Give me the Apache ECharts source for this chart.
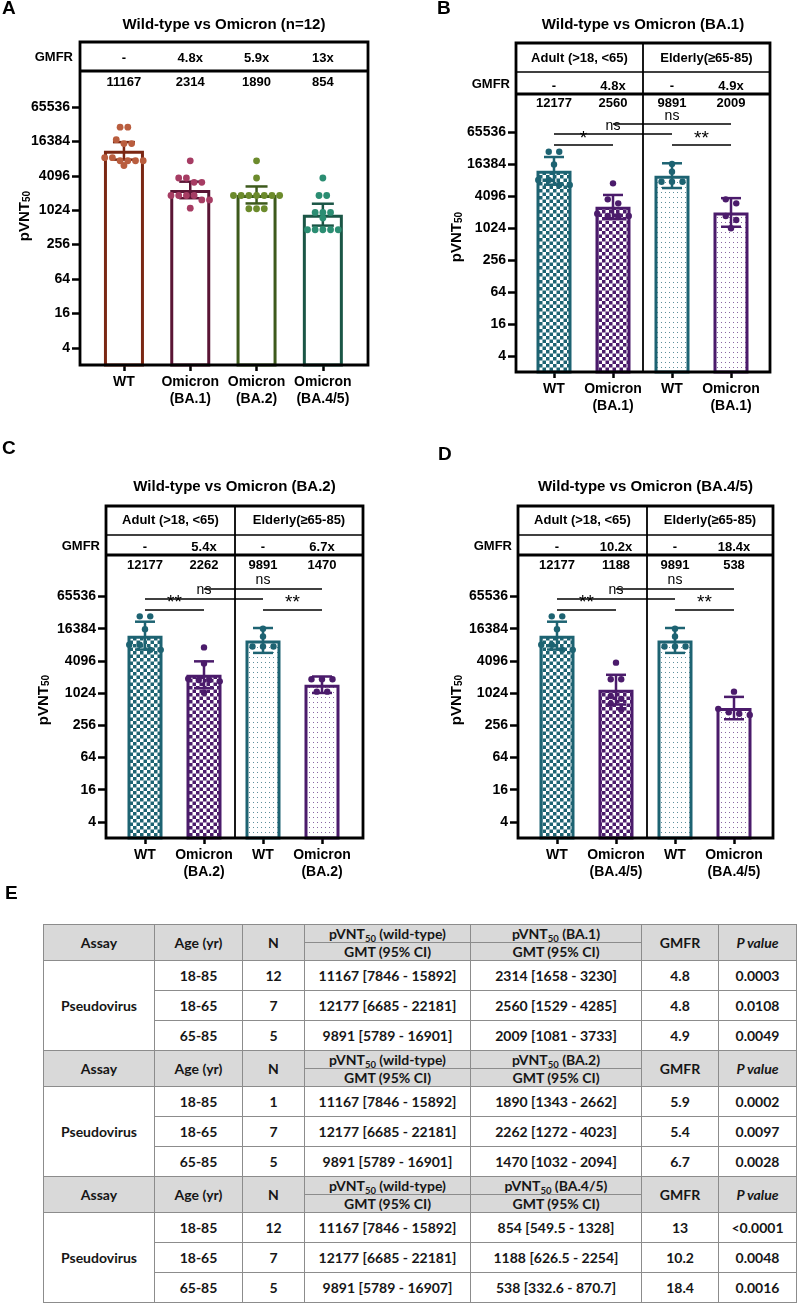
<!DOCTYPE html>
<html><head><meta charset="utf-8">
<script src="https://cdn.jsdelivr.net/npm/echarts@6/dist/echarts.min.js"></script>
<style>
html,body{margin:0;padding:0;background:#fff;width:797px;height:1304px;overflow:hidden;}
#chart{position:absolute;left:0;top:0;width:797px;height:910px;}
#tbl{position:absolute;left:43px;top:924px;width:753px;border-collapse:collapse;table-layout:fixed;
 font-family:Lato,'Open Sans',sans-serif;font-weight:700;font-size:14px;color:#161616;}
#tbl td{border:1px solid #8c8c8c;text-align:center;vertical-align:middle;padding:0;line-height:1;white-space:nowrap;overflow:hidden;}
#tbl tr.hd td{background:#d9d9d9;}
#tbl tr.h1,#tbl tr.h2{height:18px;}
#tbl tr.dr{height:30px;}
#tbl .sub{font-size:9.5px;position:relative;top:3px;}
</style></head><body>
<div id="chart"></div>
<table id="tbl"></table>
<script>
// ---------------- DATA ----------------
const yTicks = [4, 16, 64, 256, 1024, 4096, 16384, 65536];

// Panel A
const catsA = ['WT', 'Omicron\n(BA.1)', 'Omicron\n(BA.2)', 'Omicron\n(BA.4/5)'];
const gmtA = [11167, 2314, 1890, 854];
const gmfrA = ['-', '4.8x', '5.9x', '13x'];
const ciLowA = [7846, 1658, 1343, 549.5];
const ciHighA = [15892, 3230, 2662, 1328];
const dotsA_WT = [29000, 29000, 17500, 15000, 15000, 8500, 8500, 7500, 7500, 7500, 7500, 6200];
const dotsA_BA1 = [7480, 3740, 3740, 3140, 3140, 1850, 1850, 1850, 1850, 1550, 1550, 1110];
const dotsA_BA2 = [7480, 3740, 1850, 1850, 1850, 1850, 1850, 1850, 1850, 1085, 1085, 1085];
const dotsA_BA45 = [3740, 1850, 1850, 935, 935, 935, 745, 465, 465, 465, 465, 465];

// Panels B-D (shared wild-type groups)
const ageGroups = ['Adult (>18, <65)', 'Elderly(\u226565-85)'];
const dotsWT_adult = [27900, 27900, 16000, 8200, 8200, 6600, 6600];
const dotsWT_elderly = [16400, 11700, 7600, 7600, 7600];

// Panel B (BA.1)
const catsB = ['WT', 'Omicron\n(BA.1)', 'WT', 'Omicron\n(BA.1)'];
const gmtB = [12177, 2560, 9891, 2009];
const gmfrB = ['-', '4.8x', '-', '4.9x'];
const ciLowB = [6685, 1529, 5789, 1081];
const ciHighB = [22181, 4285, 16901, 3733];
const dotsB_adultOm = [7080, 3540, 2980, 1900, 1720, 1720, 1720];
const dotsB_elderlyOm = [3540, 2980, 1720, 1450, 1010];
const sigB = ['*', '**'];

// Panel C (BA.2)
const catsC = ['WT', 'Omicron\n(BA.2)', 'WT', 'Omicron\n(BA.2)'];
const gmtC = [12177, 2262, 9891, 1470];
const gmfrC = ['-', '5.4x', '-', '6.7x'];
const ciLowC = [6685, 1272, 5789, 1032];
const ciHighC = [22181, 4023, 16901, 2094];
const dotsC_adultOm = [7330, 3660, 1900, 1800, 1800, 1700, 1040];
const dotsC_elderlyOm = [1860, 1860, 1860, 1090, 1090];
const sigC = ['**', '**'];

// Panel D (BA.4/5)
const catsD = ['WT', 'Omicron\n(BA.4/5)', 'WT', 'Omicron\n(BA.4/5)'];
const gmtD = [12177, 1188, 9891, 538];
const gmfrD = ['-', '10.2x', '-', '18.4x'];
const ciLowD = [6685, 626.5, 5789, 332.6];
const ciHighD = [22181, 2254, 16907, 870.7];
const dotsD_adultOm = [3800, 1860, 1860, 900, 800, 650, 500];
const dotsD_elderlyOm = [1090, 520, 450, 420, 400];
const sigD = ['**', '**'];

// significance bracket levels (pVNT50 units)
const bracketPair = 37300, bracketNsLow = 60000, bracketNsHigh = 92700;

// Table E
const tblAssay = 'Pseudovirus';
const tblAges = ['18-85', '18-65', '65-85'];
const tblVariants = ['BA.1', 'BA.2', 'BA.4/5'];
const tblN = [[12, 7, 5], [1, 7, 5], [12, 7, 5]];
const tblWT = [
  ['11167 [7846 - 15892]', '12177 [6685 - 22181]', '9891 [5789 - 16901]'],
  ['11167 [7846 - 15892]', '12177 [6685 - 22181]', '9891 [5789 - 16901]'],
  ['11167 [7846 - 15892]', '12177 [6685 - 22181]', '9891 [5789 - 16907]']];
const tblOmi = [
  ['2314 [1658 - 3230]', '2560 [1529 - 4285]', '2009 [1081 - 3733]'],
  ['1890 [1343 - 2662]', '2262 [1272 - 4023]', '1470 [1032 - 2094]'],
  ['854 [549.5 - 1328]', '1188 [626.5 - 2254]', '538 [332.6 - 870.7]']];
const tblGMFR = [['4.8', '4.8', '4.9'], ['5.9', '5.4', '6.7'], ['13', '10.2', '18.4']];
const tblP = [['0.0003', '0.0108', '0.0049'], ['0.0002', '0.0097', '0.0028'], ['<0.0001', '0.0048', '0.0016']];

// ---------------- STYLE / LAYOUT ----------------
const FONT = "'Liberation Sans', Arial, Helvetica, sans-serif";
const TEAL = '#1d6372', PURP = '#4b1b6b';
function checker(color) {
  const c = document.createElement('canvas'); c.width = 7; c.height = 7;
  const g = c.getContext('2d'); g.fillStyle = '#fff'; g.fillRect(0, 0, 7, 7);
  g.fillStyle = color; g.fillRect(0, 0, 3.5, 3.5); g.fillRect(3.5, 3.5, 3.5, 3.5);
  return { image: c, repeat: 'repeat' };
}
function dotted(color) {
  const c = document.createElement('canvas'); c.width = 4; c.height = 5;
  const g = c.getContext('2d'); g.fillStyle = '#fff'; g.fillRect(0, 0, 4, 5);
  g.fillStyle = color; g.fillRect(1, 2, 1, 1);
  return { image: c, repeat: 'repeat' };
}

const L_A = { letter: 'A', lx: 2, ly: 9, title: 'Wild-type vs Omicron (n=12)', ty: 25,
  x0: 80, x1: 368, top: 42, ageLine: null, gmfrLine: 71, bottom: 365, mid: null,
  plotL: 90.8, plotR: 356, yMax: 279000, barW: 40, capW: 22, dotR: 3.4, dotD: 7.7,
  gmtMargin: 4.5, gmfrMargin: 6.5, nameX: 25, nameY: 216 };
const L_B = { letter: 'B', lx: 437, ly: 9, title: 'Wild-type vs Omicron (BA.1)', ty: 25,
  x0: 516, x1: 770, top: 43, ageLine: 72, gmfrLine: 94, bottom: 372, mid: 643, ageY: 58,
  plotL: 524.5, plotR: 760.5, yMax: 340000, barW: 35, capW: 20, dotR: 3.2, dotD: 10.5,
  gmtMargin: 2.5, gmfrMargin: 1.5, nameX: 457, nameY: 237 };
const L_C = { letter: 'C', lx: 2, ly: 449, title: 'Wild-type vs Omicron (BA.2)', ty: 487,
  x0: 106, x1: 363, top: 506, ageLine: 535, gmfrLine: 555, bottom: 838, mid: 235, ageY: 520,
  plotL: 115.5, plotR: 351.5, yMax: 392000, barW: 35, capW: 20, dotR: 3.2, dotD: 10.5,
  gmtMargin: 3.5, gmfrMargin: 1, nameX: 44, nameY: 700 };
const L_D = { letter: 'D', lx: 438, ly: 455, title: 'Wild-type vs Omicron (BA.4/5)', ty: 487,
  x0: 518, x1: 773, top: 506, ageLine: 535, gmfrLine: 555, bottom: 838, mid: 647, ageY: 520,
  plotL: 527.5, plotR: 763.5, yMax: 392000, barW: 35, capW: 20, dotR: 3.2, dotD: 10.5,
  gmtMargin: 3.5, gmfrMargin: 1, nameX: 457, nameY: 700 };

const panelA = { cats: catsA, gmt: gmtA, gmfr: gmfrA, ciLow: ciLowA, ciHigh: ciHighA,
  dots: [dotsA_WT, dotsA_BA1, dotsA_BA2, dotsA_BA45],
  fills: ['#fff', '#fff', '#fff', '#fff'],
  edge: ['#7b2713', '#5a1535', '#3d5a1c', '#1b5646'],
  dotCol: ['#b95d3e', '#a63c63', '#6c8b2c', '#2b8d72'], sig: null };
const bcdFills = [checker(TEAL), checker(PURP), dotted('#5d8f9b'), dotted('#8a68a3')];
const bcdEdge = [TEAL, PURP, TEAL, PURP];
const panelB = { cats: catsB, gmt: gmtB, gmfr: gmfrB, ciLow: ciLowB, ciHigh: ciHighB,
  dots: [dotsWT_adult, dotsB_adultOm, dotsWT_elderly, dotsB_elderlyOm],
  fills: bcdFills, edge: bcdEdge, dotCol: bcdEdge, sig: sigB };
const panelC = { cats: catsC, gmt: gmtC, gmfr: gmfrC, ciLow: ciLowC, ciHigh: ciHighC,
  dots: [dotsWT_adult, dotsC_adultOm, dotsWT_elderly, dotsC_elderlyOm],
  fills: bcdFills, edge: bcdEdge, dotCol: bcdEdge, sig: sigC };
const panelD = { cats: catsD, gmt: gmtD, gmfr: gmfrD, ciLow: ciLowD, ciHigh: ciHighD,
  dots: [dotsWT_adult, dotsD_adultOm, dotsWT_elderly, dotsD_elderlyOm],
  fills: bcdFills, edge: bcdEdge, dotCol: bcdEdge, sig: sigD };

// ---------------- BUILD ----------------
const grids = [], xAxes = [], yAxes = [], series = [], graphics = [];
const bold = (size) => ({ color: '#000', fontFamily: FONT, fontWeight: 'bold', fontSize: size });

function errRender(colors, capW) {
  return function (params, api) {
    const i = api.value(0);
    const t = api.coord([i, api.value(2)]);
    const b = api.coord([i, api.value(1)]);
    const st = { stroke: colors[i], lineWidth: 2.5, fill: 'none' };
    return { type: 'group', children: [
      { type: 'line', shape: { x1: t[0], y1: t[1], x2: b[0], y2: b[1] }, style: st },
      { type: 'line', shape: { x1: t[0] - capW / 2, y1: t[1], x2: t[0] + capW / 2, y2: t[1] }, style: st },
      { type: 'line', shape: { x1: b[0] - capW / 2, y1: b[1], x2: b[0] + capW / 2, y2: b[1] }, style: st }
    ] };
  };
}
function dotRender(groups, colors, r, d) {
  return function (params, api) {
    const cat = api.value(0), val = api.value(1), k = api.value(2);
    const vals = groups[cat];
    const ys = vals.map(v => api.coord([cat, v])[1]);
    const order = vals.map((_, i) => i).sort((a, b) => (ys[a] - ys[b]) || (a - b));
    const rows = []; let cur = null, y0 = 0;
    order.forEach(i => {
      if (cur && ys[i] - y0 < 0.7 * d) cur.push(i);
      else { cur = [i]; y0 = ys[i]; rows.push(cur); }
    });
    let off = 0;
    rows.forEach(row => { const j = row.indexOf(k); if (j >= 0) off = (j - (row.length - 1) / 2) * d; });
    const c = api.coord([cat, val]);
    return { type: 'circle', shape: { cx: c[0] + off, cy: c[1], r: r }, style: { fill: colors[cat] } };
  };
}

function addPanel(L, P) {
  const gi = grids.length;
  grids.push({ left: L.plotL, top: L.gmfrLine, width: L.plotR - L.plotL, height: L.bottom - L.gmfrLine });
  const idx4 = ['0', '1', '2', '3'];
  const xb = xAxes.length;
  xAxes.push({ gridIndex: gi, type: 'category', data: idx4, position: 'bottom',
    axisLine: { show: false, onZero: false },
    axisTick: { show: true, alignWithLabel: true, length: 6, lineStyle: { color: '#000', width: 2.5 } },
    axisLabel: Object.assign({ interval: 0, formatter: (v, i) => P.cats[i], lineHeight: 17, margin: 9 }, bold(14)),
    splitLine: { show: false } });
  xAxes.push({ gridIndex: gi, type: 'category', data: idx4, position: 'top',
    axisLine: { show: false, onZero: false }, axisTick: { show: false },
    axisLabel: Object.assign({ inside: true, interval: 0, formatter: (v, i) => String(P.gmt[i]), margin: L.gmtMargin }, bold(13)) });
  xAxes.push({ gridIndex: gi, type: 'category', data: idx4, position: 'top',
    axisLine: { show: false, onZero: false }, axisTick: { show: false },
    axisLabel: Object.assign({ inside: false, interval: 0, formatter: (v, i) => P.gmfr[i], margin: L.gmfrMargin }, bold(13)) });
  const yi = yAxes.length;
  yAxes.push({ gridIndex: gi, type: 'log', logBase: 2, min: 2, max: L.yMax, offset: L.plotL - L.x0,
    axisLine: { show: false },
    axisTick: { show: true, length: 8, lineStyle: { color: '#000', width: 2.5 }, customValues: yTicks },
    axisLabel: Object.assign({ customValues: yTicks, formatter: v => String(Math.round(v)), margin: 10 }, bold(14)),
    splitLine: { show: false }, minorTick: { show: false } });

  const bar = { type: 'bar', xAxisIndex: xb, yAxisIndex: yi, barWidth: L.barW, silent: true, clip: true, z: 2,
    data: P.gmt.map((v, i) => ({ value: v, itemStyle: { color: P.fills[i], borderColor: P.edge[i], borderWidth: 3 } })) };
  if (P.sig) {
    const star = { fontSize: 19, distance: -3 };
    const ns = { fontSize: 14, distance: 1 };
    bar.markLine = { symbol: ['none', 'none'], silent: true, animation: false,
      lineStyle: { color: '#000', width: 1.5, type: 'solid' },
      label: { show: true, position: 'middle', formatter: '{b}', color: '#000', fontFamily: FONT, fontSize: 14, distance: 1 },
      data: [
        [{ name: P.sig[0], coord: [0, bracketPair], label: star }, { coord: [1, bracketPair] }],
        [{ name: P.sig[1], coord: [2, bracketPair], label: star }, { coord: [3, bracketPair] }],
        [{ name: 'ns', coord: [0, bracketNsLow], label: ns }, { coord: [2, bracketNsLow] }],
        [{ name: 'ns', coord: [1, bracketNsHigh], label: ns }, { coord: [3, bracketNsHigh] }]
      ] };
  }
  series.push(bar);
  series.push({ type: 'custom', xAxisIndex: xb, yAxisIndex: yi, silent: true, z: 3,
    encode: { x: 0, y: [1, 2] },
    data: P.gmt.map((v, i) => [i, P.ciLow[i], P.ciHigh[i]]),
    renderItem: errRender(P.edge, L.capW) });
  const dd = [];
  P.dots.forEach((g, ci) => g.forEach((v, k) => dd.push([ci, v, k])));
  series.push({ type: 'custom', xAxisIndex: xb, yAxisIndex: yi, silent: true, z: 4,
    encode: { x: 0, y: 1 }, data: dd,
    renderItem: dotRender(P.dots, P.dotCol, L.dotR, L.dotD) });

  // frame & header graphics
  const txt = (x, y, text, size, align, weight) => ({ type: 'text', x: x, y: y, z: 60, silent: true,
    style: { text: text, fill: '#000', font: (weight || 'bold') + ' ' + size + 'px ' + FONT, align: align || 'center', verticalAlign: 'middle' } });
  graphics.push({ type: 'rect', z: 50, silent: true, shape: { x: L.x0, y: L.top, width: L.x1 - L.x0, height: L.bottom - L.top },
    style: { stroke: '#000', lineWidth: 2.8, fill: 'none' } });
  graphics.push({ type: 'line', z: 50, silent: true, shape: { x1: L.x0, y1: L.gmfrLine, x2: L.x1, y2: L.gmfrLine },
    style: { stroke: '#000', lineWidth: 3 } });
  if (L.ageLine) {
    graphics.push({ type: 'line', z: 50, silent: true, shape: { x1: L.x0, y1: L.ageLine, x2: L.x1, y2: L.ageLine },
      style: { stroke: '#000', lineWidth: 1.5 } });
    graphics.push({ type: 'line', z: 50, silent: true, shape: { x1: L.mid, y1: L.top, x2: L.mid, y2: L.bottom },
      style: { stroke: '#000', lineWidth: 1.8 } });
    graphics.push(txt((L.x0 + L.mid) / 2, L.ageY, ageGroups[0], 13));
    graphics.push(txt((L.mid + L.x1) / 2, L.ageY, ageGroups[1], 13));
    graphics.push(txt(L.x0 - 6, (L.ageLine + L.gmfrLine) / 2 + 1, 'GMFR', 13, 'right'));
  } else {
    graphics.push(txt(L.x0 - 7, (L.top + L.gmfrLine) / 2 + 1, 'GMFR', 13, 'right'));
  }
  graphics.push(txt((L.x0 + L.x1) / 2, L.ty, L.title, 15));
  graphics.push(txt(L.lx, L.ly, L.letter, 19, 'left'));
  // y-axis title (rotated, with subscript)
  graphics.push({ type: 'text', x: L.nameX, y: L.nameY, rotation: Math.PI / 2, z: 60, silent: true,
    style: { text: 'pVNT{s|50}', fill: '#000', font: 'bold 15px ' + FONT, align: 'center', verticalAlign: 'middle',
      rich: { s: { font: 'bold 10px ' + FONT, fill: '#000', verticalAlign: 'bottom', padding: [4, 0, 0, 0] } } } });
}

addPanel(L_A, panelA);
addPanel(L_B, panelB);
addPanel(L_C, panelC);
addPanel(L_D, panelD);
graphics.push({ type: 'text', x: 5, y: 894, z: 60, silent: true,
  style: { text: 'E', fill: '#000', font: 'bold 19px ' + FONT, align: 'left', verticalAlign: 'middle' } });

const chart = echarts.init(document.getElementById('chart'), null, { renderer: 'canvas' });
chart.setOption({
  animation: false,
  backgroundColor: '#fff',
  grid: grids, xAxis: xAxes, yAxis: yAxes, series: series,
  graphic: { elements: graphics }
});

// ---------------- TABLE E ----------------
const colW = [111, 88, 62, 166, 171, 77, 78];
const sub = '<span class="sub">50</span>';
let html = '<colgroup>' + colW.map(w => '<col style="width:' + w + 'px">').join('') + '</colgroup>';
tblVariants.forEach((vn, g) => {
  html += '<tr class="hd h1"><td rowspan="2">Assay</td><td rowspan="2">Age (yr)</td><td rowspan="2">N</td>' +
    '<td>pVNT' + sub + ' (wild-type)</td><td>pVNT' + sub + ' (' + vn + ')</td>' +
    '<td rowspan="2">GMFR</td><td rowspan="2"><i>P value</i></td></tr>';
  html += '<tr class="hd h2"><td>GMT (95% CI)</td><td>GMT (95% CI)</td></tr>';
  tblAges.forEach((age, r) => {
    html += '<tr class="dr">' + (r === 0 ? '<td rowspan="3">' + tblAssay + '</td>' : '') +
      '<td>' + age + '</td><td>' + tblN[g][r] + '</td><td>' + tblWT[g][r] + '</td><td>' + tblOmi[g][r] +
      '</td><td>' + tblGMFR[g][r] + '</td><td>' + tblP[g][r] + '</td></tr>';
  });
});
document.getElementById('tbl').innerHTML = html;
</script>
</body></html>
